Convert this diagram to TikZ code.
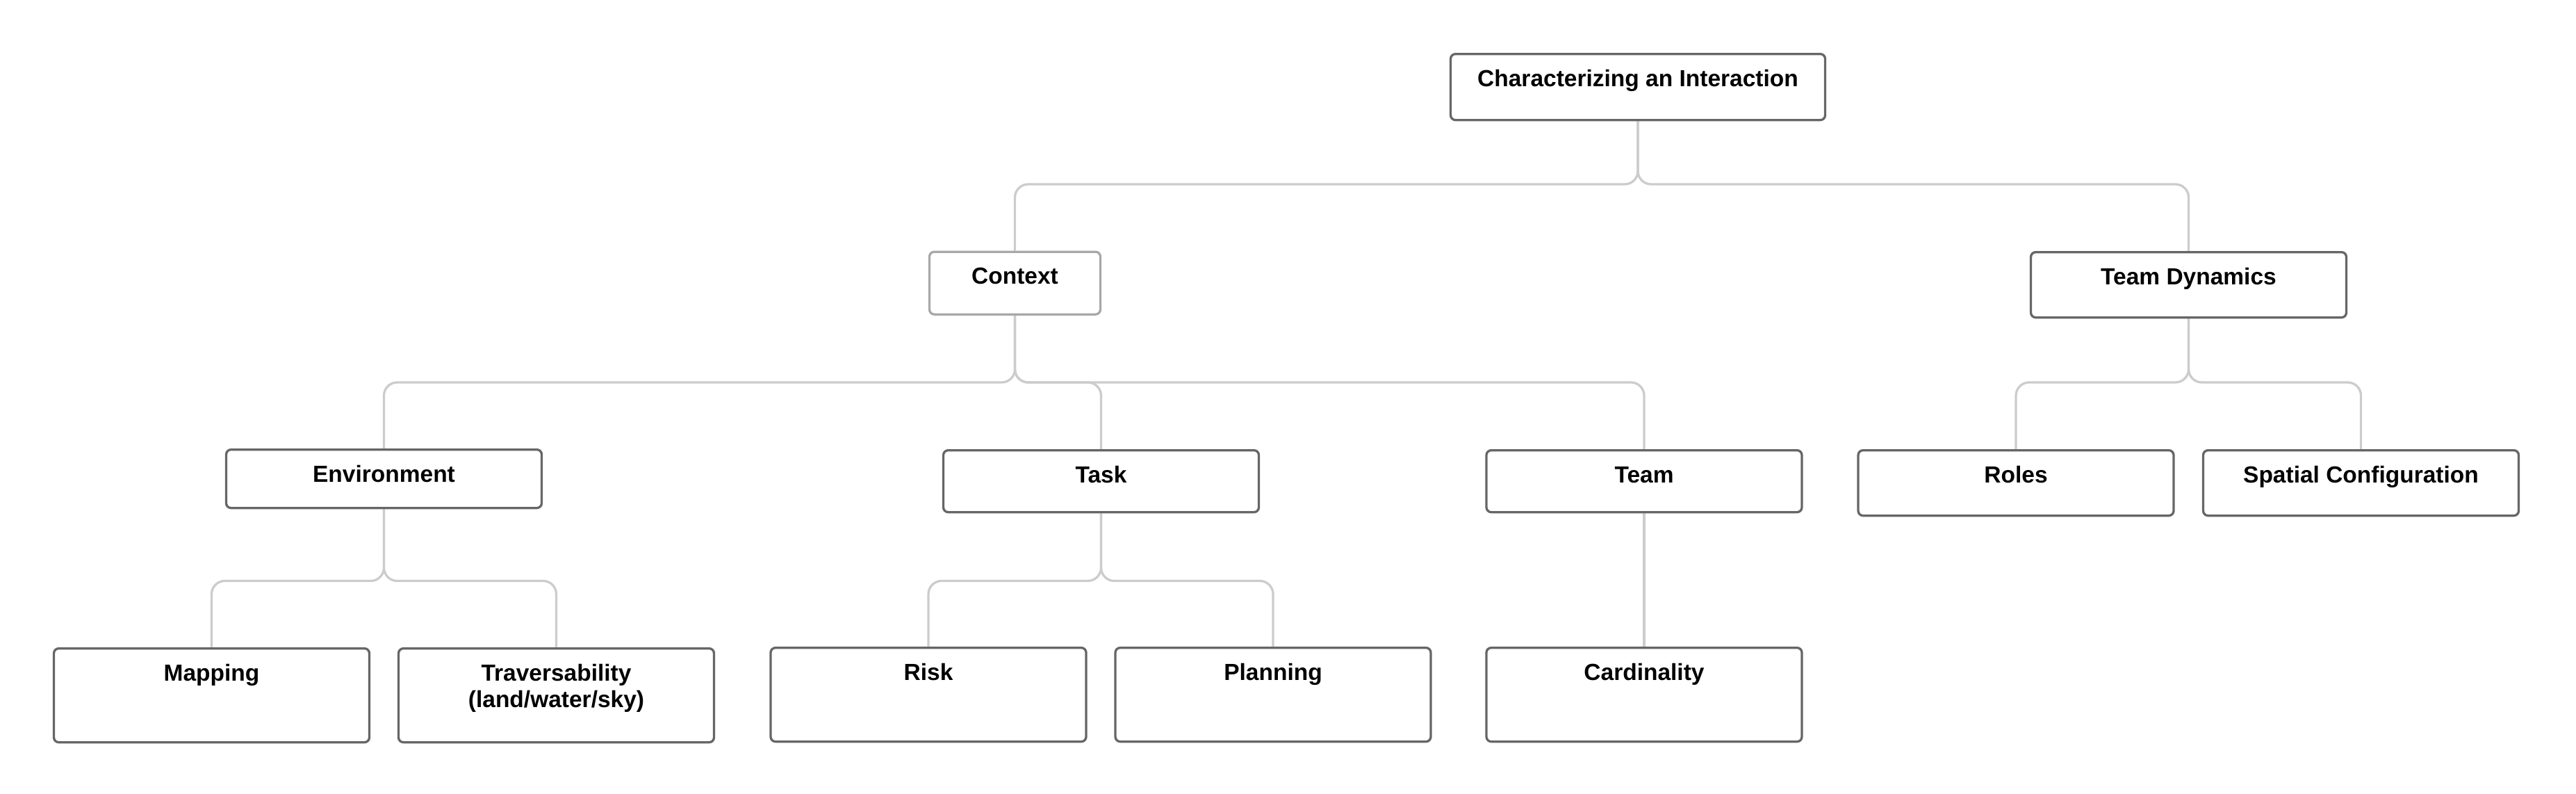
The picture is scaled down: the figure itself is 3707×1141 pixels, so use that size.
\documentclass[tikz,border=0pt]{standalone}
\usepackage{fontspec}
\setmainfont{Liberation Sans}
\usetikzlibrary{backgrounds}
\definecolor{boxgray}{HTML}{666666}
\definecolor{ctxgray}{HTML}{A8A8A8}
\definecolor{linegray}{HTML}{CCCCCC}
\begin{document}
\begin{tikzpicture}[x=1pt,y=-1pt,
  box/.style={draw=boxgray, line width=3.3pt, rounded corners=7pt, fill=white,
    inner sep=0pt, anchor=north, minimum width=454pt, align=center,
    font=\fontsize{33.5pt}{38.5pt}\selectfont\bfseries, text height=46.5pt},
  conn/.style={draw=linegray, line width=3.3pt, rounded corners=19pt}]
\useasboundingbox (0,0) rectangle (3707,1141);
% level 0
\node[box, minimum width=539pt, text depth=48.5pt] (char) at (2357,76) {Characterizing an Interaction};
% level 1
\node[box, draw=ctxgray, minimum width=246pt, text depth=43.5pt] (ctx) at (1460.5,360.5) {Context};
\node[box, text depth=47.5pt] (td) at (3149.5,361) {Team Dynamics};
% level 2
\node[box, text depth=37.5pt] (env) at (552.5,645) {Environment};
\node[box, text depth=42.5pt] (task) at (1584.5,646) {Task};
\node[box, text depth=42.5pt] (team) at (2366,646) {Team};
\node[box, text depth=47.5pt] (roles) at (2901,646) {Roles};
\node[box, text depth=47.5pt] (spatial) at (3397.5,646) {Spatial Configuration};
% level 3
\node[box, text depth=88.5pt] (mapping) at (304.5,931) {Mapping};
\node[box, text height=85pt, text depth=50pt] (trav) at (800.5,931) {Traversability\\(land/water/sky)};
\node[box, text depth=88.5pt] (risk) at (1336,930) {Risk};
\node[box, text depth=88.5pt] (planning) at (1832,930) {Planning};
\node[box, text depth=88.5pt] (card) at (2366,930) {Cardinality};
% bus levels
\coordinate (b0) at (0,265);
\coordinate (b1) at (0,550);
\coordinate (b2) at (0,835.5);
\begin{pgfonlayer}{background}
\draw[conn] (char.south) -- (char.south |- b0) -| (ctx.north);
\draw[conn] (char.south) -- (char.south |- b0) -| (td.north);
\draw[conn] (ctx.south) -- (ctx.south |- b1) -| (env.north);
\draw[conn] (ctx.south) -- (ctx.south |- b1) -| (task.north);
\draw[conn] (ctx.south) -- (ctx.south |- b1) -| (team.north);
\draw[conn] (td.south) -- (td.south |- b1) -| (roles.north);
\draw[conn] (td.south) -- (td.south |- b1) -| (spatial.north);
\draw[conn] (env.south) -- (env.south |- b2) -| (mapping.north);
\draw[conn] (env.south) -- (env.south |- b2) -| (trav.north);
\draw[conn] (task.south) -- (task.south |- b2) -| (risk.north);
\draw[conn] (task.south) -- (task.south |- b2) -| (planning.north);
\draw[conn] (team.south) -- (card.north);
\end{pgfonlayer}
\end{tikzpicture}
\end{document}
